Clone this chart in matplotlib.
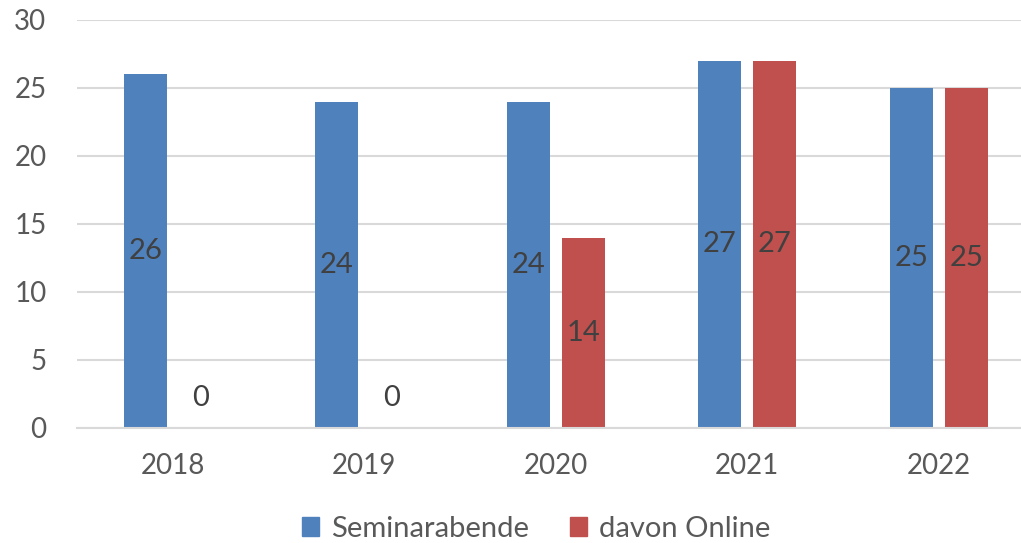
import numpy as np
import matplotlib.pyplot as plt
from matplotlib.patches import Patch

years = ["2018", "2019", "2020", "2021", "2022"]
seminare = [26, 24, 24, 27, 25]
online = [0, 0, 14, 27, 25]

blue = "#4F81BD"
red = "#C0504D"
tick_col = "#595959"
lab_col = "#404040"

plt.rcParams['font.family'] = ['Lato', 'DejaVu Sans']

fig = plt.figure(figsize=(10.21, 5.43), dpi=100)
ax = fig.add_axes([77 / 1021, 115 / 543, 944 / 1021, 408 / 543])

x = np.arange(len(years))
w = 0.224
off = 0.143
ax.bar(x - off, seminare, w, color=blue, zorder=2)
ax.bar(x + off, online, w, color=red, zorder=2)

# labels in the middle of each bar, zero values sit a bit above the base
for xs, vals in ((x - off, seminare), (x + off, online)):
    for xi, v in zip(xs, vals):
        y = v / 2 if v > 0 else 2.2
        ax.text(xi, y, str(v), ha='center', va='center', fontsize=21, color=lab_col, zorder=3)

ax.set_xlim(-0.5, -0.5 + 944 / 191.5)
ax.set_ylim(0, 30)
ax.set_yticks(range(0, 31, 5))
ax.set_xticks(x)
ax.set_xticklabels(years)
ax.yaxis.grid(True, color="#D9D9D9", linewidth=1.5, zorder=0)
ax.set_axisbelow(True)
for s in ['top', 'right', 'left']:
    ax.spines[s].set_visible(False)
ax.spines['bottom'].set_color("#D9D9D9")
ax.spines['bottom'].set_linewidth(1.5)
ax.tick_params(axis='both', length=0, labelsize=20, colors=tick_col)
ax.tick_params(axis='y', pad=22)
ax.tick_params(axis='x', pad=18)

handles = [Patch(color=blue, label="Seminarabende"), Patch(color=red, label="davon Online")]
fig.legend(handles=handles, loc='center', bbox_to_anchor=(0.525, 14 / 543), ncol=2, frameon=False,
           fontsize=21, labelcolor=tick_col, handlelength=0.6, handleheight=0.6,
           handletextpad=0.4, columnspacing=1.4)

fig.savefig('out.png', dpi=100)
